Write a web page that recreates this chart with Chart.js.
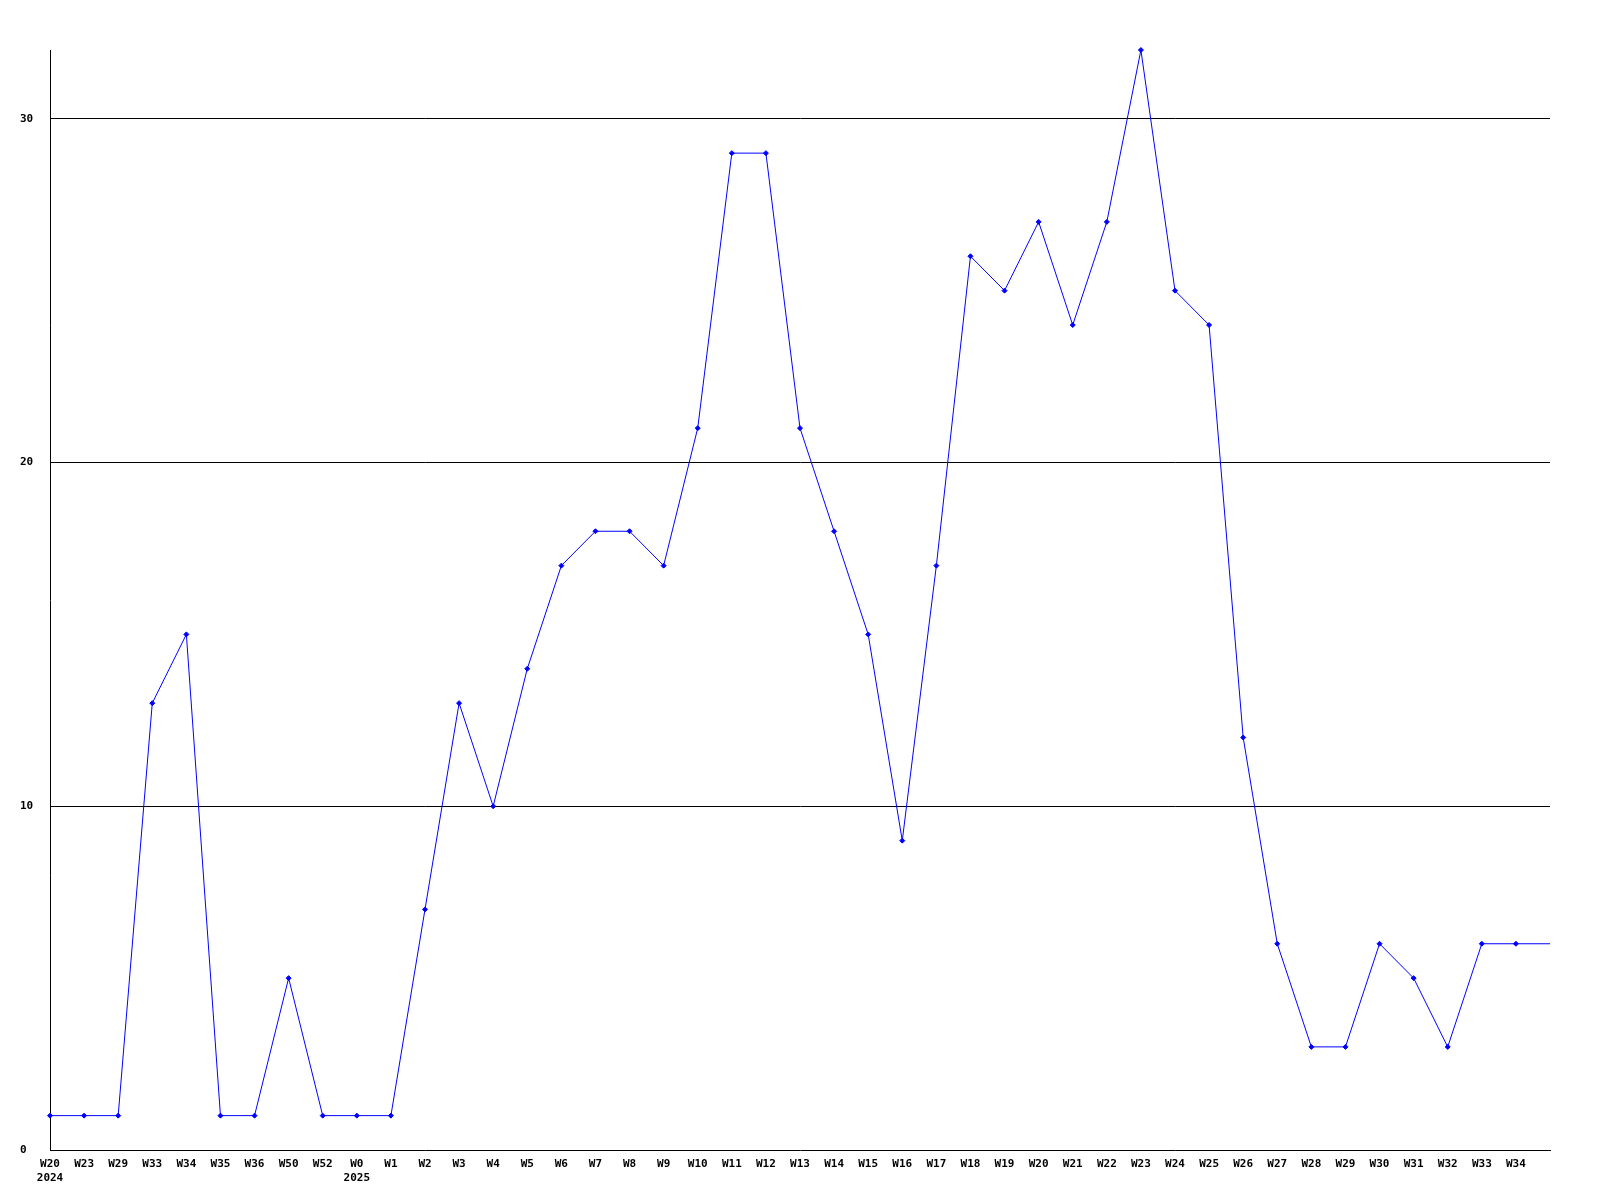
<!DOCTYPE html>
<html>
<head>
<meta charset="utf-8">
<script src="https://cdn.jsdelivr.net/npm/chart.js@4/dist/chart.umd.min.js"></script>
<style>
  html, body { margin: 0; padding: 0; background: #fff; }
  canvas { display: block; }
</style>
</head>
<body>
<canvas id="chart" width="1600" height="1200"></canvas>
<script>
// weeks, the trailing '' is the current (unlabelled) week
const weeks = [
  ['W20', '2024'], 'W23', 'W29', 'W33', 'W34', 'W35', 'W36', 'W50', 'W52',
  ['W0', '2025'], 'W1', 'W2', 'W3', 'W4', 'W5', 'W6', 'W7', 'W8', 'W9',
  'W10', 'W11', 'W12', 'W13', 'W14', 'W15', 'W16', 'W17', 'W18', 'W19',
  'W20', 'W21', 'W22', 'W23', 'W24', 'W25', 'W26', 'W27', 'W28', 'W29',
  'W30', 'W31', 'W32', 'W33', 'W34', ''
];

const counts = [
  1, 1, 1, 13, 15, 1, 1, 5, 1,
  1, 1, 7, 13, 10, 14, 17, 18, 18, 17,
  21, 29, 29, 21, 18, 15, 9, 17, 26, 25,
  27, 24, 27, 32, 25, 24, 12, 6, 3, 3,
  6, 5, 3, 6, 6, 6
];

const yTicks = [0, 10, 20, 30];
const yMax = 32;

const font = { family: "'DejaVu Sans Mono', monospace", size: 11, weight: 'bold' };

const ctx = document.getElementById('chart').getContext('2d');

new Chart(ctx, {
  type: 'line',
  data: {
    labels: weeks,
    datasets: [{
      data: counts,
      borderColor: '#0000ff',
      backgroundColor: '#0000ff',
      borderWidth: 1,
      tension: 0,
      fill: false,
      clip: false,
      pointStyle: 'rectRot',
      pointRadius: counts.map((v, i) => (i === counts.length - 1 ? 0 : 2.5)),
      pointBorderWidth: 1
    }]
  },
  options: {
    responsive: false,
    devicePixelRatio: 1,
    animation: false,
    layout: { padding: { left: 20, right: 50, top: 50, bottom: 0 } },
    plugins: {
      legend: { display: false },
      tooltip: { enabled: false }
    },
    scales: {
      x: {
        offset: false,
        grid: { display: false, drawTicks: false },
        border: { display: true, color: '#000', width: 1 },
        ticks: {
          autoSkip: false,
          maxRotation: 0,
          minRotation: 0,
          padding: 8,
          color: '#000',
          font: font
        },
        afterFit: (axis) => { axis.height = 50; }
      },
      y: {
        min: 0,
        max: yMax,
        grid: {
          color: (c) => (c.tick && c.tick.value > 0 ? '#000' : 'rgba(0,0,0,0)'),
          lineWidth: 1,
          drawTicks: false
        },
        border: { display: true, color: '#000', width: 1 },
        afterBuildTicks: (axis) => { axis.ticks = yTicks.map(v => ({ value: v })); },
        ticks: {
          includeBounds: false,
          crossAlign: 'far',
          padding: 0,
          color: '#000',
          font: font
        },
        afterFit: (axis) => { axis.width = 30; }
      }
    }
  }
});
</script>
</body>
</html>
